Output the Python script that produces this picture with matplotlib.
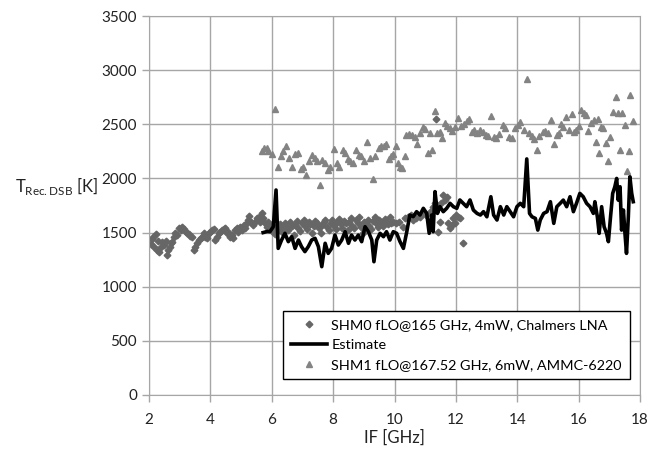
import matplotlib
matplotlib.use("Agg")
import matplotlib.pyplot as plt

plt.rcParams['font.family'] = ['Lato', 'DejaVu Sans']
plt.rcParams['mathtext.fontset'] = 'custom'
plt.rcParams['mathtext.rm'] = 'Lato'

# SHM0 fLO@165 GHz, 4mW, Chalmers LNA
shm0_f = [2.05, 2.10, 2.13, 2.16, 2.22, 2.25, 2.28, 2.32, 2.38, 2.43, 2.49, 2.54, 2.59, 2.62, 2.68,
          2.72, 2.76, 2.81, 2.86, 2.92, 2.97, 3.03, 3.08, 3.14, 3.19, 3.24, 3.30, 3.35, 3.41, 3.46,
          3.51, 3.57, 3.62, 3.68, 3.73, 3.78, 3.84, 3.89, 3.95, 4.00, 4.05, 4.11, 4.16, 4.22, 4.27,
          4.32, 4.38, 4.43, 4.49, 4.54, 4.59, 4.64, 4.70, 4.75, 4.80, 4.86, 4.91, 4.97, 5.02, 5.08,
          5.13, 5.18, 5.24, 5.27, 5.32, 5.38, 5.46, 5.51, 5.57, 5.62, 5.67, 5.73, 5.78, 5.84, 5.89,
          5.95, 6.00, 6.05, 6.10, 6.16, 6.21, 6.27, 6.32, 6.38, 6.43, 6.49, 6.54, 6.60, 6.65, 6.71,
          6.76, 6.82, 6.87, 6.93, 6.98, 7.04, 7.09, 7.15, 7.20, 7.26, 7.31, 7.37, 7.42, 7.48, 7.53,
          7.59, 7.64, 7.70, 7.75, 7.81, 7.86, 7.92, 7.97, 8.03, 8.08, 8.14, 8.19, 8.25, 8.30, 8.36,
          8.41, 8.47, 8.52, 8.58, 8.63, 8.69, 8.74, 8.80, 8.85, 8.91, 8.96, 9.02, 9.07, 9.13, 9.18,
          9.24, 9.29, 9.35, 9.40, 9.46, 9.51, 9.57, 9.62, 9.68, 9.73, 9.79, 9.84, 9.90, 9.95, 10.05,
          10.16, 10.27, 10.33, 10.44, 10.55, 10.60, 10.71, 10.82, 10.93, 11.04, 11.15, 11.24, 11.31,
          11.35, 11.37, 11.42, 11.48, 11.53, 11.58, 11.64, 11.70, 11.75, 11.80, 11.86, 11.92, 11.97,
          12.02, 12.07, 12.13, 12.23]
shm0_t = [1396, 1440, 1463, 1371, 1488, 1341, 1420, 1325, 1371, 1417, 1387, 1426, 1295, 1341, 1371,
          1400, 1417, 1463, 1494, 1479, 1540, 1525, 1549, 1531, 1509, 1494, 1488, 1469, 1463, 1341,
          1371, 1402, 1433, 1448, 1463, 1494, 1463, 1448, 1494, 1509, 1525, 1531, 1433, 1463, 1494,
          1509, 1525, 1531, 1540, 1494, 1509, 1463, 1479, 1448, 1525, 1540, 1509, 1555, 1525, 1571,
          1540, 1586, 1617, 1653, 1601, 1571, 1601, 1632, 1647, 1601, 1678, 1632, 1586, 1555, 1601,
          1571, 1510, 1545, 1490, 1560, 1520, 1575, 1540, 1500, 1585, 1555, 1525, 1595, 1560, 1480,
          1570, 1605, 1540, 1510, 1590, 1620, 1565, 1530, 1600, 1575, 1495, 1560, 1610, 1585, 1545,
          1500, 1570, 1600, 1620, 1555, 1525, 1590, 1615, 1560, 1530, 1600, 1625, 1575, 1540, 1610,
          1585, 1520, 1600, 1630, 1565, 1545, 1615, 1590, 1640, 1555, 1500, 1600, 1575, 1620, 1560,
          1535, 1610, 1645, 1585, 1550, 1620, 1595, 1560, 1625, 1605, 1575, 1640, 1590, 1601, 1586,
          1601, 1555, 1632, 1647, 1663, 1617, 1632, 1647, 1678, 1663, 1693, 1739, 1770,
          2549, 1724, 1509, 1601, 1770, 1847, 1800, 1832, 1586, 1540, 1571, 1632, 1588,
          1663, 1644, 1632, 1404]

# Estimate
est_f = [5.72, 5.85, 5.94, 6.05, 6.14, 6.21, 6.32, 6.43, 6.54, 6.65, 6.76, 6.87, 6.97, 7.08, 7.19,
         7.30, 7.41, 7.52, 7.63, 7.74, 7.84, 7.95, 8.06, 8.17, 8.28, 8.39, 8.50, 8.60, 8.71, 8.82,
         8.93, 9.04, 9.15, 9.26, 9.33, 9.42, 9.53, 9.64, 9.74, 9.85, 9.96, 10.07, 10.18, 10.29,
         10.40, 10.50, 10.61, 10.72, 10.83, 10.94, 11.05, 11.13, 11.21, 11.26, 11.32, 11.40, 11.48,
         11.59, 11.70, 11.81, 11.92, 12.03, 12.13, 12.24, 12.35, 12.46, 12.57, 12.69, 12.80, 12.90,
         13.01, 13.14, 13.23, 13.34, 13.45, 13.56, 13.66, 13.77, 13.88, 13.99, 14.10, 14.21, 14.31,
         14.40, 14.48, 14.59, 14.67, 14.75, 14.86, 14.97, 15.08, 15.19, 15.29, 15.40, 15.50, 15.61,
         15.72, 15.83, 15.93, 16.04, 16.15, 16.26, 16.37, 16.48, 16.53, 16.61, 16.67, 16.75, 16.83,
         16.91, 16.97, 17.04, 17.11, 17.18, 17.24, 17.29, 17.35, 17.40, 17.46, 17.51, 17.56, 17.62,
         17.67, 17.73, 17.78]
est_t = [1500, 1510, 1508, 1554, 1893, 1354, 1431, 1493, 1416, 1462, 1354, 1431, 1370, 1324, 1370,
         1431, 1447, 1370, 1185, 1401, 1308, 1354, 1477, 1385, 1431, 1508, 1401, 1477, 1431, 1477,
         1416, 1554, 1508, 1431, 1231, 1431, 1493, 1462, 1508, 1431, 1508, 1493, 1416, 1354,
         1508, 1662, 1647, 1693, 1662, 1724, 1677, 1493, 1662, 1508, 1878, 1677, 1739,
         1693, 1724, 1770, 1739, 1724, 1801, 1770, 1739, 1801, 1708, 1677, 1662, 1693,
         1646, 1831, 1662, 1616, 1739, 1662, 1739, 1693, 1646, 1739, 1770, 1739, 2180,
         1677, 1646, 1631, 1523, 1616, 1677, 1693, 1785, 1585, 1739, 1770, 1800, 1739,
         1831, 1693, 1770, 1862, 1831, 1770, 1739, 1677, 1785, 1646, 1493, 1739, 1554,
         1493, 1416, 1646, 1862, 1923, 2000, 1800, 1923, 1523, 1708, 1493, 1308, 1646,
         2016, 1862, 1785]

# SHM1 fLO@167.52 GHz, 6mW, AMMC-6220
shm1_f = [5.69, 5.76, 5.84, 5.89, 6.00, 6.09, 6.20, 6.31, 6.38, 6.46, 6.57, 6.65, 6.76, 6.85, 6.95,
          7.01, 7.12, 7.20, 7.31, 7.40, 7.49, 7.58, 7.64, 7.74, 7.83, 7.89, 8.04, 8.13, 8.18, 8.31,
          8.40, 8.47, 8.56, 8.65, 8.76, 8.83, 8.91, 9.02, 9.11, 9.19, 9.29, 9.38, 9.49, 9.56, 9.65,
          9.73, 9.82, 9.89, 9.96, 10.05, 10.12, 10.17, 10.25, 10.33, 10.39, 10.47, 10.56, 10.67,
          10.74, 10.83, 10.93, 11.01, 11.09, 11.16, 11.23, 11.32, 11.40, 11.48, 11.56, 11.64, 11.72,
          11.81, 11.89, 11.96, 12.08, 12.16, 12.27, 12.35, 12.43, 12.51, 12.59, 12.70, 12.78, 12.87,
          12.98, 13.05, 13.14, 13.23, 13.32, 13.41, 13.52, 13.61, 13.72, 13.83, 13.94, 14.01, 14.10,
          14.21, 14.31, 14.39, 14.48, 14.56, 14.64, 14.72, 14.83, 14.92, 14.99, 15.10, 15.19, 15.29,
          15.35, 15.43, 15.50, 15.59, 15.68, 15.78, 15.84, 15.92, 16.01, 16.08, 16.16, 16.25, 16.32,
          16.41, 16.50, 16.55, 16.63, 16.68, 16.74, 16.81, 16.88, 16.95, 17.03, 17.12, 17.21, 17.28,
          17.36, 17.42, 17.50, 17.58, 17.64, 17.69, 17.77]
shm1_t = [2249, 2279, 2285, 2250, 2224, 2638, 2110, 2203, 2250, 2295, 2193, 2110, 2227, 2233, 2086,
          2110, 2034, 2163, 2218, 2187, 2157, 1942, 2172, 2147, 2080, 2110, 2273, 2141, 2110, 2264,
          2239, 2178, 2157, 2141, 2264, 2218, 2203, 2163, 2341, 2187, 1994, 2203, 2279, 2295, 2301,
          2316, 2178, 2209, 2227, 2295, 2141, 2110, 2095, 2209, 2402, 2408, 2402, 2387,
          2319, 2423, 2472, 2454, 2239, 2423, 2258, 2623, 2417, 2433, 2371, 2515, 2485,
          2469, 2439, 2479, 2555, 2485, 2503, 2531, 2546, 2433, 2448, 2417, 2448, 2433,
          2402, 2393, 2577, 2387, 2377, 2411, 2494, 2469, 2387, 2371, 2463, 2494, 2525,
          2448, 2917, 2417, 2393, 2362, 2264, 2393, 2433, 2442, 2423, 2540, 2319, 2402,
          2417, 2503, 2479, 2571, 2448, 2592, 2433, 2448, 2485, 2632, 2601, 2586, 2439,
          2509, 2540, 2341, 2546, 2239, 2479, 2469, 2325, 2157, 2380, 2617, 2755, 2601,
          2264, 2601, 2494, 2064, 2249, 2770, 2534]

x_ticks = [2, 4, 6, 8, 10, 12, 14, 16, 18]
y_ticks = [0, 500, 1000, 1500, 2000, 2500, 3000, 3500]

fig = plt.figure(figsize=(6.49, 4.5), dpi=100)
ax = fig.add_axes([149/649, 55/450, 491/649, 379/450])

ax.plot(shm0_f, shm0_t, linestyle='none', marker='D', markersize=3.4, color='#666666',
        label='SHM0 fLO@165 GHz, 4mW, Chalmers LNA')
ax.plot(est_f, est_t, color='black', linewidth=2.6, label='Estimate')
ax.plot(shm1_f, shm1_t, linestyle='none', marker='^', markersize=5, color='#838383',
        label='SHM1 fLO@167.52 GHz, 6mW, AMMC-6220')

ax.set_xlim(2, 18)
ax.set_ylim(0, 3500)
ax.set_xticks(x_ticks)
ax.set_yticks(y_ticks)
ax.grid(True, color='#a6a6a6', linewidth=1.0)
ax.set_axisbelow(True)
for s in ax.spines.values():
    s.set_color('#a6a6a6')
ax.tick_params(colors='#a6a6a6', labelcolor='#222222', labelsize=11, length=5, width=1)
ax.tick_params(axis='x', pad=8)

ax.set_xlabel('IF [GHz]', fontsize=12, color='#222222', labelpad=2)
fig.text(15/649, 1 - 186/450, r'T$_{\mathrm{Rec.DSB}}$ [K]', fontsize=12, color='#222222',
         va='center', ha='left')

leg = ax.legend(loc='lower left', bbox_to_anchor=(0.273, 0.042), borderaxespad=0,
                fontsize=10.4, fancybox=False, edgecolor='black', framealpha=1,
                handlelength=2.5, handletextpad=0.3, borderpad=0.55, labelspacing=0.55)
leg.get_frame().set_linewidth(1.0)

plt.savefig('out.png', dpi=100)
